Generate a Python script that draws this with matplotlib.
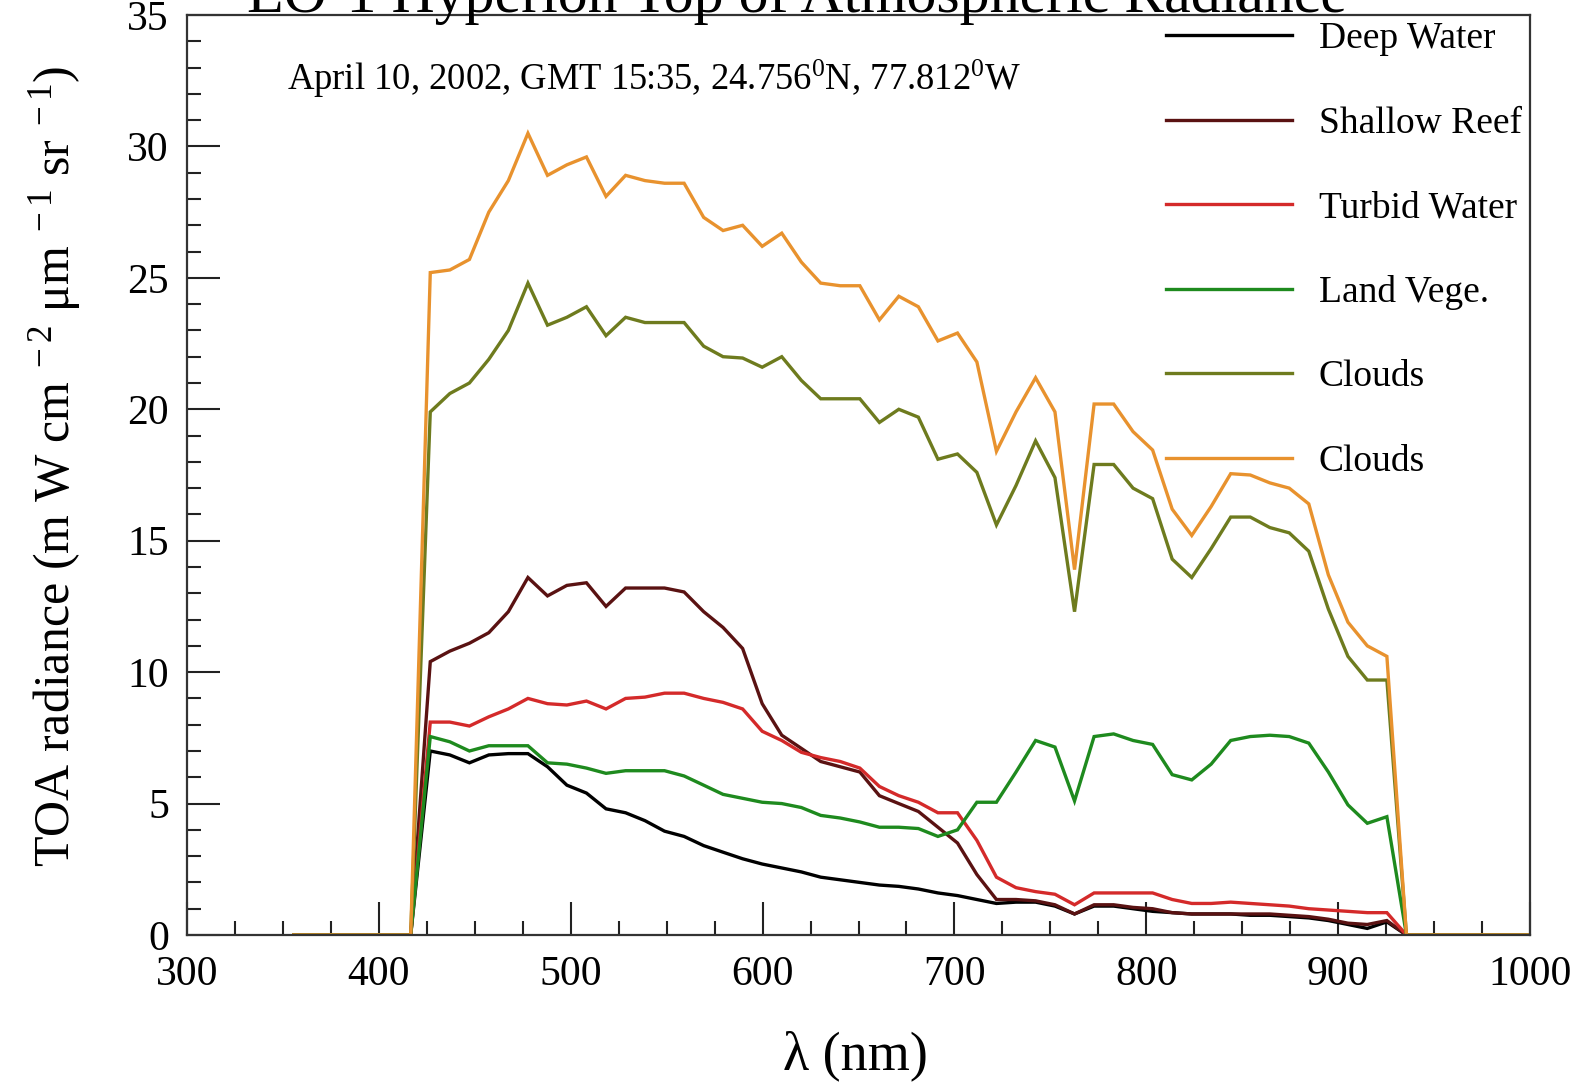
import matplotlib
matplotlib.use("Agg")
import matplotlib.pyplot as plt
from matplotlib.ticker import MultipleLocator

plt.rcParams['font.family'] = ['Liberation Serif', 'DejaVu Serif']
plt.rcParams['mathtext.fontset'] = 'custom'
plt.rcParams['mathtext.rm'] = 'Liberation Serif'
plt.rcParams['mathtext.it'] = 'Liberation Serif:italic'
plt.rcParams['mathtext.bf'] = 'Liberation Serif:bold'

# Hyperion VNIR band centres (nm)
wavelength = [355.6, 365.8, 376.0, 386.1, 396.3, 406.5, 416.6,
              426.8, 437.0, 447.2, 457.3, 467.5, 477.7, 487.9, 498.0, 508.2, 518.4,
              528.6, 538.7, 548.9, 559.1, 569.3, 579.4, 589.6, 599.8, 610.0, 620.2,
              630.3, 640.5, 650.7, 660.9, 671.0, 681.2, 691.4, 701.6, 711.7, 721.9,
              732.1, 742.3, 752.4, 762.6, 772.8, 783.0, 793.1, 803.3, 813.5, 823.7,
              833.8, 844.0, 854.2, 864.4, 874.5, 884.7, 894.9, 905.1, 915.2, 925.4,
              935.6, 945.8, 955.9, 966.1, 976.3, 986.5, 996.6, 1006.8]

deep_water = [0, 0, 0, 0, 0, 0, 0,
              7.0, 6.85, 6.55, 6.85, 6.9, 6.9, 6.4, 5.7, 5.4, 4.8,
              4.65, 4.35, 3.95, 3.75, 3.4, 3.15, 2.9, 2.7, 2.55, 2.4,
              2.2, 2.1, 2.0, 1.9, 1.85, 1.75, 1.6, 1.5, 1.35, 1.2,
              1.25, 1.25, 1.1, 0.8, 1.1, 1.1, 1.0, 0.9, 0.85, 0.8,
              0.8, 0.8, 0.75, 0.75, 0.7, 0.65, 0.55, 0.4, 0.25, 0.5,
              0, 0, 0, 0, 0, 0, 0, 0]

shallow_reef = [0, 0, 0, 0, 0, 0, 0,
                10.4, 10.8, 11.1, 11.5, 12.3, 13.6, 12.9, 13.3, 13.4, 12.5,
                13.2, 13.2, 13.2, 13.05, 12.3, 11.7, 10.9, 8.8, 7.6, 7.1,
                6.6, 6.4, 6.2, 5.3, 5.0, 4.7, 4.1, 3.5, 2.3, 1.35,
                1.35, 1.3, 1.15, 0.8, 1.15, 1.15, 1.05, 1.0, 0.85, 0.8,
                0.8, 0.8, 0.8, 0.8, 0.75, 0.7, 0.6, 0.45, 0.4, 0.55,
                0, 0, 0, 0, 0, 0, 0, 0]

turbid_water = [0, 0, 0, 0, 0, 0, 0,
                8.1, 8.1, 7.95, 8.3, 8.6, 9.0, 8.8, 8.75, 8.9, 8.6,
                9.0, 9.05, 9.2, 9.2, 9.0, 8.85, 8.6, 7.75, 7.4, 6.95,
                6.75, 6.6, 6.35, 5.65, 5.3, 5.05, 4.65, 4.65, 3.6, 2.2,
                1.8, 1.65, 1.55, 1.15, 1.6, 1.6, 1.6, 1.6, 1.35, 1.2,
                1.2, 1.25, 1.2, 1.15, 1.1, 1.0, 0.95, 0.9, 0.85, 0.85,
                0, 0, 0, 0, 0, 0, 0, 0]

land_vege = [0, 0, 0, 0, 0, 0, 0,
             7.55, 7.35, 7.0, 7.2, 7.2, 7.2, 6.55, 6.5, 6.35, 6.15,
             6.25, 6.25, 6.25, 6.05, 5.7, 5.35, 5.2, 5.05, 5.0, 4.85,
             4.55, 4.45, 4.3, 4.1, 4.1, 4.05, 3.75, 4.0, 5.05, 5.05,
             6.2, 7.4, 7.15, 5.1, 7.55, 7.65, 7.4, 7.25, 6.1, 5.9,
             6.5, 7.4, 7.55, 7.6, 7.55, 7.3, 6.2, 4.95, 4.25, 4.5,
             0, 0, 0, 0, 0, 0, 0, 0]

clouds_1 = [0, 0, 0, 0, 0, 0, 0,
            19.9, 20.6, 21.0, 21.9, 23.0, 24.8, 23.2, 23.5, 23.9, 22.8,
            23.5, 23.3, 23.3, 23.3, 22.4, 22.0, 21.95, 21.6, 22.0, 21.1,
            20.4, 20.4, 20.4, 19.5, 20.0, 19.7, 18.1, 18.3, 17.6, 15.6,
            17.1, 18.8, 17.4, 12.3, 17.9, 17.9, 17.0, 16.6, 14.3, 13.6,
            14.7, 15.9, 15.9, 15.5, 15.3, 14.6, 12.4, 10.6, 9.7, 9.7,
            0, 0, 0, 0, 0, 0, 0, 0]

clouds_2 = [0, 0, 0, 0, 0, 0, 0,
            25.2, 25.3, 25.7, 27.5, 28.7, 30.5, 28.9, 29.3, 29.6, 28.1,
            28.9, 28.7, 28.6, 28.6, 27.3, 26.8, 27.0, 26.2, 26.7, 25.6,
            24.8, 24.7, 24.7, 23.4, 24.3, 23.9, 22.6, 22.9, 21.8, 18.4,
            19.9, 21.2, 19.9, 13.9, 20.2, 20.2, 19.15, 18.45, 16.2, 15.2,
            16.3, 17.55, 17.5, 17.2, 17.0, 16.4, 13.7, 11.9, 11.0, 10.6,
            0, 0, 0, 0, 0, 0, 0, 0]

series_labels = ["Deep Water", "Shallow Reef", "Turbid Water", "Land Vege.", "Clouds", "Clouds"]
series_colors = ["#000000", "#5a1212", "#d42a2a", "#1e8a1e", "#6e7b1e", "#e8922e"]

x_ticks = [300, 400, 500, 600, 700, 800, 900, 1000]
y_ticks = [0, 5, 10, 15, 20, 25, 30, 35]

W, H = 1577, 1088
fig = plt.figure(figsize=(W / 100, H / 100), dpi=100)
ax = fig.add_axes([187 / W, 1 - 935 / H, (1530 - 187) / W, (935 - 15) / H])

all_series = [deep_water, shallow_reef, turbid_water, land_vege, clouds_1, clouds_2]
for vals, lab, col in zip(all_series, series_labels, series_colors):
    ax.plot(wavelength, vals, color=col, lw=2.4, label=lab, solid_joinstyle='miter')

ax.set_xlim(300, 1000)
ax.set_ylim(0, 35)
ax.set_xticks(x_ticks)
ax.set_yticks(y_ticks)
ax.xaxis.set_minor_locator(MultipleLocator(25))
ax.yaxis.set_minor_locator(MultipleLocator(1))
ax.tick_params(which='both', direction='in', top=False, right=False, width=1.5, colors='#222222')
ax.tick_params(which='major', length=24)
ax.tick_params(which='minor', length=10)
ax.tick_params(axis='x', which='major', labelsize=30, pad=15, labelcolor='black')
ax.tick_params(axis='y', which='major', labelsize=30, pad=13, labelcolor='black')
for s in ax.spines.values():
    s.set_linewidth(1.6)
    s.set_color('#333333')

fig.text(55 / W, 1 - 466 / H, r"TOA radiance (m W cm$^{\ -2}$ μm$^{\ -1}$ sr$^{\ -1}$)",
         rotation=90, ha='center', va='center', fontsize=36)
fig.text(855 / W, 1 - 1056 / H, "λ (nm)", ha='center', va='center', fontsize=39)
fig.text(797 / W, 1 - 12 / H, "EO-1 Hyperion Top of Atmospheric Radiance",
         ha='center', va='baseline', fontsize=43)
fig.text(287 / W, 1 - 79 / H, "April 10, 2002, GMT 15:35, 24.756$^{0}$N, 77.812$^{0}$W",
         ha='left', va='center', fontsize=26.4)

leg = ax.legend(loc='upper left', bbox_to_anchor=(1166 / W, 1 - 22 / H),
                bbox_transform=fig.transFigure, frameon=False, fontsize=27,
                handlelength=3.35, handletextpad=0.72, labelspacing=1.33,
                borderpad=0, borderaxespad=0)

fig.savefig("out.png", dpi=100)
